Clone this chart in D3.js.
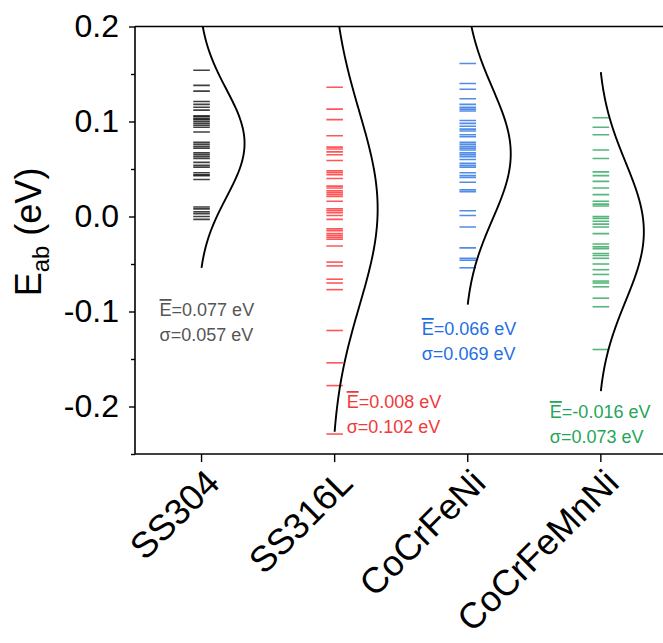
<!DOCTYPE html>
<html>
<head>
<meta charset="utf-8">
<script src="https://cdn.jsdelivr.net/npm/d3@7/dist/d3.min.js"></script>
<style>
  html, body { margin: 0; padding: 0; background: #fff; }
  svg { display: block; font-family: Arial, "Liberation Sans", sans-serif; }
</style>
</head>
<body>
<svg id="chart" width="663" height="643"></svg>
<script>
// Alloys on the category axis
const categories = ["SS304", "SS316L", "CoCrFeNi", "CoCrFeMnNi"];

// Individual E_ab values (eV) per alloy
const ss304Values = [
  0.154, 0.138, 0.132, 0.121, 0.118, 0.115, 0.112, 0.106, 0.105, 0.103,
  0.102, 0.100, 0.098, 0.096, 0.094, 0.089, 0.078, 0.076, 0.074, 0.072,
  0.067, 0.065, 0.063, 0.061, 0.057, 0.054, 0.052, 0.046, 0.044, 0.043,
  0.039, 0.010, 0.008, 0.005, 0.003, 0.000, -0.003
];
const ss316lValues = [
  0.136, 0.113, 0.102, 0.085, 0.073, 0.071, 0.068, 0.065, 0.059, 0.048,
  0.046, 0.044, 0.040, 0.032, 0.030, 0.027, 0.025, 0.023, 0.021, 0.016,
  0.008, 0.006, 0.004, 0.001, -0.003, -0.013, -0.015, -0.018, -0.020, -0.022,
  -0.024, -0.031, -0.048, -0.052, -0.066, -0.070, -0.077, -0.120, -0.154, -0.178,
  -0.229
];
const cocrfeniValues = [
  0.161, 0.140, 0.134, 0.124, 0.118, 0.115, 0.113, 0.111, 0.101, 0.098,
  0.095, 0.092, 0.090, 0.086, 0.084, 0.078, 0.076, 0.074, 0.072, 0.070,
  0.067, 0.065, 0.063, 0.060, 0.056, 0.054, 0.052, 0.046, 0.043, 0.041,
  0.036, 0.028, 0.026, 0.006, 0.001, -0.011, -0.033, -0.044, -0.046, -0.054
];
const cocrfemnniValues = [
  0.104, 0.094, 0.086, 0.070, 0.061, 0.047, 0.043, 0.037, 0.030, 0.023,
  0.016, 0.013, 0.011, 0.000, -0.002, -0.005, -0.008, -0.011, -0.018, -0.029,
  -0.032, -0.034, -0.039, -0.041, -0.044, -0.050, -0.056, -0.061, -0.068, -0.070,
  -0.074, -0.086, -0.095, -0.140
];

// Fitted normal distribution parameters (eV)
const means = [0.077, 0.008, 0.066, -0.016];
const sigmas = [0.057, 0.102, 0.069, 0.073];

// Colours: ticks and annotation text
const tickColors = ["#000000", "#ff1f1f", "#1565e0", "#1e9e4f"];
const textColors = ["#555555", "#f03a3a", "#1f6fe6", "#25a55a"];

// Y-axis tick values
const majorTicks = [-0.2, -0.1, 0.0, 0.1, 0.2];
const minorTicks = [-0.25, -0.15, -0.05, 0.05, 0.15];

const seriesValues = [ss304Values, ss316lValues, cocrfeniValues, cocrfemnniValues];

// Annotation placement relative to each category tick: [dx, baseline y of first line]
const noteOffsets = [[-42, 316], [12, 408], [-46, 335], [-51, 418]];

const svg = d3.select("#chart");

const plot = { left: 135, right: 667.4, top: 26.5, bottom: 454 };

const x = d3.scaleBand()
  .domain(categories)
  .range([plot.left, plot.right]);
const cx = c => x(c) + x.bandwidth() / 2;

const y = d3.scaleLinear()
  .domain([-0.25, 0.2])
  .range([plot.bottom, plot.top]);

// Clip marks to the plot frame
svg.append("defs").append("clipPath").attr("id", "plotClip")
  .append("rect")
  .attr("x", plot.left).attr("y", plot.top)
  .attr("width", plot.right - plot.left).attr("height", plot.bottom - plot.top);

const marks = svg.append("g").attr("clip-path", "url(#plotClip)");

const dashHalf = 8.3;
const peakWidth = 43;
const zSpan = 2.3;
const g0 = Math.exp(-zSpan * zSpan / 2);

categories.forEach((cat, i) => {
  const c = cx(cat);
  // individual values as short horizontal dashes
  marks.append("g")
    .selectAll("line")
    .data(seriesValues[i])
    .join("line")
    .attr("x1", c - dashHalf)
    .attr("x2", c + dashHalf)
    .attr("y1", d => y(d))
    .attr("y2", d => y(d))
    .attr("stroke", tickColors[i])
    .attr("stroke-opacity", 0.75)
    .attr("stroke-width", 1.6);

  // normal distribution curve growing to the right of the category
  const m = means[i], s = sigmas[i];
  const pts = d3.range(0, 201).map(k => {
    const v = m - zSpan * s + (2 * zSpan * s) * k / 200;
    const z = (v - m) / s;
    const g = Math.exp(-z * z / 2);
    return [v, (g - g0) / (1 - g0)];
  });
  marks.append("path")
    .datum(pts)
    .attr("fill", "none")
    .attr("stroke", "#000")
    .attr("stroke-width", 1.9)
    .attr("d", d3.line().x(d => c + peakWidth * d[1]).y(d => y(d[0])).curve(d3.curveBasis));
});

// Frame: top line
svg.append("line")
  .attr("x1", plot.left).attr("x2", plot.right)
  .attr("y1", plot.top).attr("y2", plot.top)
  .attr("stroke", "#000").attr("stroke-width", 1.6);

// Y axis
const yAxis = d3.axisLeft(y)
  .tickValues(majorTicks)
  .tickFormat(d3.format(".1f"))
  .tickSize(6)
  .tickPadding(10);
const gy = svg.append("g").attr("transform", `translate(${plot.left},0)`).call(yAxis);
gy.select(".domain").attr("stroke-width", 1.6).attr("d", `M0,${plot.top}V${plot.bottom}`);
gy.selectAll(".tick line").attr("stroke-width", 1.4);
gy.selectAll(".tick text")
  .attr("font-size", 32)
  .attr("font-family", "Arial, 'Liberation Sans', sans-serif")
  .text(d => d3.format(".1f")(d).replace("−", "-"));

const gyMinor = svg.append("g").attr("transform", `translate(${plot.left},0)`)
  .call(d3.axisLeft(y).tickValues(minorTicks).tickSize(4).tickFormat(""));
gyMinor.select(".domain").remove();
gyMinor.selectAll(".tick line").attr("stroke-width", 1.4);

// X axis
const xAxis = d3.axisBottom(x).tickSize(8).tickPadding(0).tickFormat("");
const gx = svg.append("g").attr("transform", `translate(0,${plot.bottom})`).call(xAxis);
gx.select(".domain").attr("stroke-width", 1.6).attr("d", `M${plot.left},0H${plot.right}`);
gx.selectAll(".tick line").attr("stroke-width", 1.4);

// Rotated category labels
svg.append("g").selectAll("text")
  .data(categories)
  .join("text")
  .attr("transform", d => `translate(${cx(d) + 20},${plot.bottom + 31}) rotate(-45)`)
  .attr("text-anchor", "end")
  .attr("font-size", 36)
  .attr("fill", "#000")
  .text(d => d);

// Y-axis title: E_ab (eV)
const title = svg.append("text")
  .attr("transform", `translate(41,232) rotate(-90)`)
  .attr("text-anchor", "middle")
  .attr("font-size", 36)
  .attr("fill", "#000");
title.append("tspan").text("E");
title.append("tspan").attr("font-size", 24).attr("dy", 8).text("ab");
title.append("tspan").attr("dy", -8).text(" (eV)");

// Mean / sigma annotations
categories.forEach((cat, i) => {
  const [dx, by] = noteOffsets[i];
  const tx = cx(cat) + dx;
  const t1 = svg.append("text")
    .attr("x", tx).attr("y", by)
    .attr("font-size", 18)
    .attr("fill", textColors[i]);
  t1.append("tspan").style("text-decoration", "overline").text("E");
  t1.append("tspan").text(`=${means[i].toFixed(3)} eV`);
  svg.append("text")
    .attr("x", tx).attr("y", by + 24.5)
    .attr("font-size", 18)
    .attr("fill", textColors[i])
    .text(`σ=${sigmas[i].toFixed(3)} eV`);
});
</script>
</body>
</html>
